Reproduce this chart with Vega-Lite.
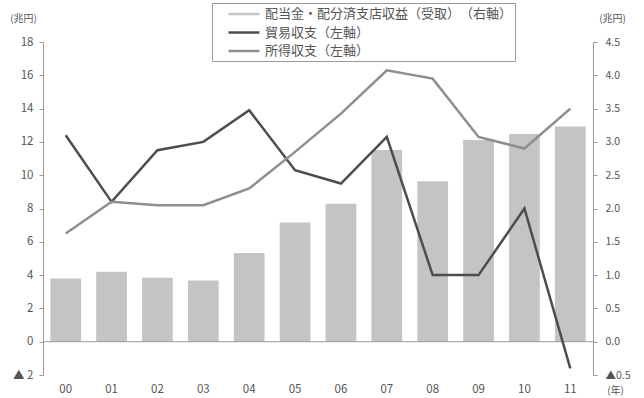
{
  "$schema": "https://vega.github.io/schema/vega-lite/v6.json",
  "autosize": {"type": "none"},
  "width": 550,
  "height": 333,
  "padding": {"left": 43, "top": 42, "right": 51, "bottom": 23},
  "background": "#ffffff",
  "config": {
    "font": "Noto Sans CJK JP",
    "view": {"stroke": null},
    "axis": {
      "labelColor": "#555555",
      "labelFontSize": 11.5,
      "labelOverlap": false,
      "titleColor": "#555555",
      "titleFontSize": 10,
      "titleFontWeight": "normal",
      "domainColor": "#9a9a9a",
      "tickColor": "#9a9a9a",
      "grid": false
    },
    "legend": {
      "orient": "none",
      "legendX": 169,
      "legendY": -39,
      "direction": "vertical",
      "strokeColor": "#9a9a9a",
      "padding": 2.5,
      "symbolType": "M0.79,0H5.2",
      "symbolSize": 196,
      "symbolStrokeWidth": 2.5,
      "labelOffset": 33.5,
      "labelFontSize": 13,
      "labelColor": "#555555",
      "labelLimit": 500,
      "rowPadding": 2.5,
      "title": null
    }
  },
  "datasets": {
    "income": [
      {"year": "00", "value": 0.95},
      {"year": "01", "value": 1.05},
      {"year": "02", "value": 0.96},
      {"year": "03", "value": 0.92},
      {"year": "04", "value": 1.33},
      {"year": "05", "value": 1.79},
      {"year": "06", "value": 2.07},
      {"year": "07", "value": 2.88},
      {"year": "08", "value": 2.41},
      {"year": "09", "value": 3.03},
      {"year": "10", "value": 3.12},
      {"year": "11", "value": 3.23}
    ],
    "balances": [
      {"year": "00", "series": "貿易収支（左軸）", "value": 12.4},
      {"year": "01", "series": "貿易収支（左軸）", "value": 8.4},
      {"year": "02", "series": "貿易収支（左軸）", "value": 11.5},
      {"year": "03", "series": "貿易収支（左軸）", "value": 12.0},
      {"year": "04", "series": "貿易収支（左軸）", "value": 13.9},
      {"year": "05", "series": "貿易収支（左軸）", "value": 10.3},
      {"year": "06", "series": "貿易収支（左軸）", "value": 9.5},
      {"year": "07", "series": "貿易収支（左軸）", "value": 12.3},
      {"year": "08", "series": "貿易収支（左軸）", "value": 4.0},
      {"year": "09", "series": "貿易収支（左軸）", "value": 4.0},
      {"year": "10", "series": "貿易収支（左軸）", "value": 8.0},
      {"year": "11", "series": "貿易収支（左軸）", "value": -1.6},
      {"year": "00", "series": "所得収支（左軸）", "value": 6.5},
      {"year": "01", "series": "所得収支（左軸）", "value": 8.4},
      {"year": "02", "series": "所得収支（左軸）", "value": 8.2},
      {"year": "03", "series": "所得収支（左軸）", "value": 8.2},
      {"year": "04", "series": "所得収支（左軸）", "value": 9.2},
      {"year": "05", "series": "所得収支（左軸）", "value": 11.4},
      {"year": "06", "series": "所得収支（左軸）", "value": 13.7},
      {"year": "07", "series": "所得収支（左軸）", "value": 16.3},
      {"year": "08", "series": "所得収支（左軸）", "value": 15.8},
      {"year": "09", "series": "所得収支（左軸）", "value": 12.3},
      {"year": "10", "series": "所得収支（左軸）", "value": 11.6},
      {"year": "11", "series": "所得収支（左軸）", "value": 14.0}
    ],
    "zeroLine": [
      {"value": 0}
    ]
  },
  "encoding": {
    "x": {
      "field": "year",
      "type": "ordinal",
      "sort": null,
      "scale": {"paddingInner": 0.33, "paddingOuter": 0.16},
      "axis": {
        "labelAngle": 0,
        "labelPadding": 8,
        "domain": false,
        "ticks": false,
        "title": "(年)",
        "titleX": 572,
        "titleY": 15,
        "titleAlign": "center",
        "titleBaseline": "middle"
      }
    }
  },
  "layer": [
    {
      "data": {"name": "income"},
      "mark": {"type": "bar", "opacity": 1},
      "encoding": {
        "y": {
          "field": "value",
          "type": "quantitative",
          "scale": {"domain": [-0.5, 4.5], "nice": false, "zero": false},
          "axis": {
            "orient": "right",
            "values": [-0.5, 0, 0.5, 1, 1.5, 2, 2.5, 3, 3.5, 4, 4.5],
            "labelExpr": "datum.value < 0 ? '▲' + format(-datum.value, '.1f') : format(datum.value, '.1f')",
            "labelFontSize": 10.5,
            "labelOverlap": false,
            "labelPadding": 8,
            "tickSize": 4,
            "title": "(兆円)",
            "titleAngle": 0,
            "titleX": 19,
            "titleY": -24,
            "titleAlign": "center",
            "titleBaseline": "middle"
          }
        },
        "color": {
          "datum": "配当金・配分済支店収益（受取）　（右軸）",
          "scale": {
            "domain": ["配当金・配分済支店収益（受取）　（右軸）", "貿易収支（左軸）", "所得収支（左軸）"],
            "range": ["#c4c4c4", "#4d4d4d", "#8e8e8e"]
          }
        }
      }
    },
    {
      "encoding": {
        "y": {
          "field": "value",
          "type": "quantitative",
          "scale": {"domain": [-2, 18], "nice": false, "zero": false},
          "axis": {
            "orient": "left",
            "values": [-2, 0, 2, 4, 6, 8, 10, 12, 14, 16, 18],
            "labelExpr": "datum.value < 0 ? '▲ ' + (-datum.value) : '' + datum.value",
            "labelOverlap": false,
            "labelPadding": 6,
            "tickSize": 4,
            "title": "(兆円)",
            "titleAngle": 0,
            "titleX": -20,
            "titleY": -24,
            "titleAlign": "center",
            "titleBaseline": "middle"
          }
        }
      },
      "layer": [
        {
          "data": {"name": "zeroLine"},
          "mark": {"type": "rule", "color": "#9a9a9a", "strokeWidth": 1},
          "encoding": {"x": null}
        },
        {
          "data": {"name": "balances"},
          "mark": {"type": "line", "strokeWidth": 2.5},
          "encoding": {
            "color": {"field": "series", "type": "nominal"}
          }
        }
      ]
    }
  ],
  "resolve": {"scale": {"y": "independent"}}
}
